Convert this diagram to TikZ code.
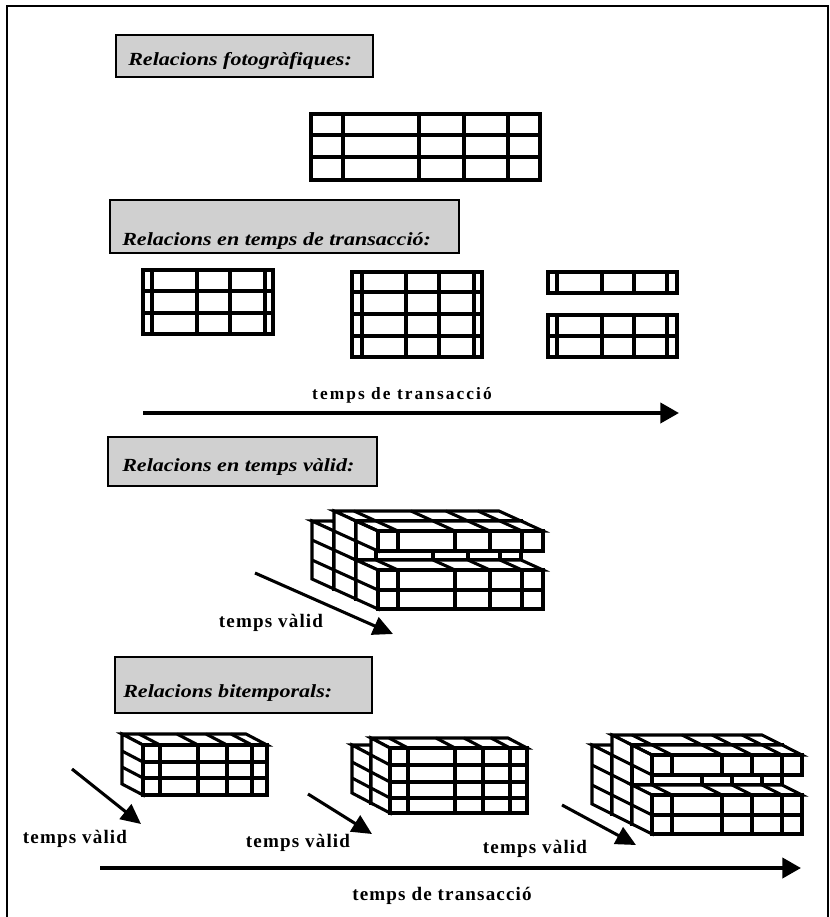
\documentclass[tikz,border=0pt]{standalone}
\usepackage{graphicx}
\usepackage{fontspec}
\setmainfont{Liberation Serif}
\newfontfamily\spacedserif[LetterSpace=6]{Liberation Serif}
\newfontfamily\widespacedserif[LetterSpace=12]{Liberation Serif}
\usetikzlibrary{arrows.meta}
\definecolor{titlegray}{RGB}{208,208,208}

\newcommand\titlefont{\fontsize{13.9pt}{16pt}\selectfont\bfseries\itshape}
\newcommand\widetitle[1]{\scalebox{1.19}[1]{#1}}
\newcommand\labelfont{\spacedserif\fontsize{14.3pt}{16pt}\selectfont\bfseries}
\newcommand\widelabelfont{\widespacedserif\fontsize{13pt}{15pt}\selectfont\bfseries}

\tikzset{
  frameline/.style={line width=1.5pt},
  titlebox/.style={draw=black, fill=titlegray, line width=1.8pt},
  titletext/.style={anchor=base west, inner sep=0pt, font=\titlefont},
  gridline/.style={draw=black, line width=2.4pt},
  rowline/.style={draw=black, line width=3.2pt},
  cellface/.style={fill=white, draw=black, line width=2.3pt, line join=miter},
  cellline/.style={draw=black, line width=2.3pt},
  timearrow/.style={line width=3pt, -{Triangle[length=14pt,width=15pt]}},
  validarrow/.style={line width=2.3pt, -{Triangle[length=15pt,width=14pt]}},
  axislabel/.style={anchor=base, inner sep=0pt, font=\labelfont},
}

% flat table with doubled side lines:
% #1 left, #2 inner left, #3 columns, #4 inner right, #5 right, #6 top, #7 row lines, #8 bottom
\newcommand\ttable[8]{%
  \draw[gridline] (#1,#6) rectangle (#5,#8);
  \draw[gridline] (#2,#6) -- (#2,#8);
  \draw[gridline] (#4,#6) -- (#4,#8);
  \foreach \x in {#3} \draw[gridline] (\x,#6) -- (\x,#8);
  \foreach \y in {#7} \draw[rowline] (#1,\y) -- (#5,\y);
}

% oblique block of cells, depth (\dX,\dY) towards the upper left:
% #1 left, #2 columns, #3 right, #4 top, #5 row lines, #6 bottom
\newcommand\prism[6]{%
  \filldraw[cellface] (#1,#4) -- (#3,#4) -- ++(-\dX,-\dY) -- ({#1-\dX},{#4-\dY}) -- cycle;
  \foreach \c in {#2} \draw[cellline] (\c,#4) -- ++(-\dX,-\dY);
  \filldraw[cellface] (#1,#4) -- (#1,#6) -- ++(-\dX,-\dY) -- ({#1-\dX},{#4-\dY}) -- cycle;
  \foreach \r in {#5} \draw[cellline] (#1,\r) -- ++(-\dX,-\dY);
  \filldraw[cellface] (#1,#4) rectangle (#3,#6);
  \foreach \c in {#2} \draw[cellline] (\c,#4) -- (\c,#6);
  \foreach \r in {#5} \draw[cellline] (#1,\r) -- (#3,\r);
}

\begin{document}
\begin{tikzpicture}[x=0.75pt, y=-0.75pt]
\useasboundingbox (0,0) rectangle (830,917);
\fill[white] (0,0) rectangle (830,917);

% page frame
\draw[frameline] (7,917) -- (7,6) -- (828,6) -- (828,917);

% ---------- snapshot relations ----------
\path[titlebox] (116,35) rectangle (373,77);
\node[titletext] (t1) at (128,65) {\widetitle{Relacions fotogràfiques:}};

\draw[gridline] (311,114) rectangle (540,180);
\foreach \x in {343,419,464,508} \draw[gridline] (\x,114) -- (\x,180);
\foreach \y in {135,157} \draw[gridline] (311,\y) -- (540,\y);

% ---------- transaction-time relations ----------
\path[titlebox] (110,200) rectangle (459,253);
\node[titletext] (t2) at (122,245) {\widetitle{Relacions en temps de transacció:}};

\ttable{143}{152}{197,230}{265}{273}{270}{291,313}{334}
\ttable{352}{362}{406,439}{474}{482}{272}{292,314,336}{357}
\ttable{548}{557}{602,634}{667}{677}{272}{293}{293}
\ttable{548}{557}{602,634}{667}{677}{315}{336}{357}

\node[anchor=base, inner sep=0pt, font=\widelabelfont] (tt1) at (402,399) {temps de transacció};
\coordinate (tt1s) at (143,413);
\coordinate (tt1e) at (679,413);
\draw[timearrow] (tt1s) -- (tt1e);

% ---------- valid-time relations ----------
\path[titlebox] (108,437) rectangle (377,486);
\node[titletext] (t3) at (122,471) {\widetitle{Relacions en temps vàlid:}};

\def\dX{22}\def\dY{10}
\begin{scope}[shift={(-44,-20)}]
  \prism{378}{398,455,490,522}{543}{551}{570,590}{609}
\end{scope}
\begin{scope}[shift={(-22,-10)}]
  \prism{378}{398,455,490,522}{543}{531}{551,570,590}{609}
\end{scope}
\prism{378}{398,455,490,522}{543}{570}{590}{609}
\prism{378}{398,455,490,522}{543}{531}{531}{551}

\coordinate (va0s) at (255,573);
\coordinate (va0e) at (393,634);
\draw[validarrow] (va0s) -- (va0e);
\node[axislabel] (vl0) at (271,627) {temps vàlid};

% ---------- bitemporal relations ----------
\path[titlebox] (115,657) rectangle (372,713);
\node[titletext] (t4) at (123,697) {\widetitle{Relacions bitemporals:}};

% first state: one slice
\def\dX{21}\def\dY{11}
\prism{143}{160,198,227,252}{267}{745}{762,778}{795}

% second state: two slices
\def\dX{19}\def\dY{10}
\begin{scope}[shift={(-19,-10)}]
  \prism{390}{408,455,483,510}{527}{765}{782,798}{813}
\end{scope}
\prism{390}{408,455,483,510}{527}{748}{765,782,798}{813}

% third state: three slices
\def\dX{20}\def\dY{10}
\begin{scope}[shift={(-40,-20)}]
  \prism{652}{672,722,752,782}{802}{775}{795,815}{834}
\end{scope}
\begin{scope}[shift={(-20,-10)}]
  \prism{652}{672,722,752,782}{802}{755}{775,795,815}{834}
\end{scope}
\prism{652}{672,722,752,782}{802}{795}{815}{834}
\prism{652}{672,722,752,782}{802}{755}{755}{775}

\coordinate (va1s) at (72,769);
\coordinate (va1e) at (141,824);
\draw[validarrow] (va1s) -- (va1e);
\coordinate (va2s) at (308,794);
\coordinate (va2e) at (372,834);
\draw[validarrow] (va2s) -- (va2e);
\coordinate (va3s) at (562,805);
\coordinate (va3e) at (636,845);
\draw[validarrow] (va3s) -- (va3e);

\node[axislabel] (vl1) at (75,843) {temps vàlid};
\node[axislabel] (vl2) at (298,847) {temps vàlid};
\node[axislabel] (vl3) at (535,853) {temps vàlid};

\coordinate (tt2s) at (100,868);
\coordinate (tt2e) at (801,868);
\draw[timearrow] (tt2s) -- (tt2e);
\node[axislabel] (tt2) at (442,900) {temps de transacció};

\end{tikzpicture}
\end{document}
